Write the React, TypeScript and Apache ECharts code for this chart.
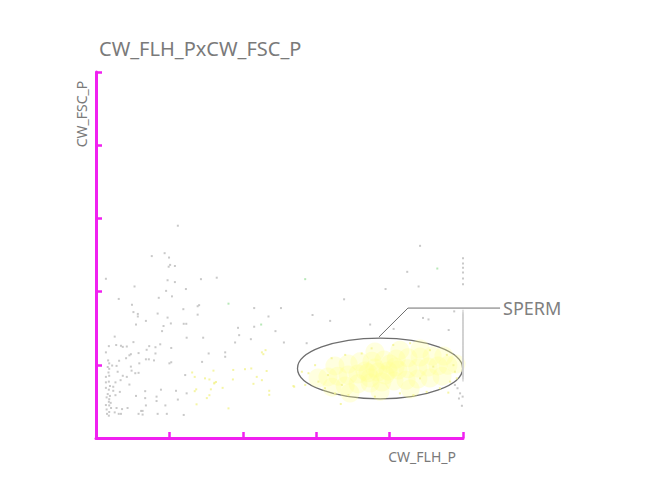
import React, { useEffect, useRef } from 'react';
import * as echarts from 'echarts';

// 事件点（灰色）
const greyPoints: [number, number][] = [
  [223, 580], [152, 497], [187, 505], [199, 493], [202, 473], [215, 470], [198, 468],
  [27, 435], [195, 431], [215, 426], [286, 434], [105, 414], [245, 407], [191, 402],
  [62, 380], [171, 383], [207, 387], [98, 364], [281, 363], [277, 360], [238, 352],
  [102, 344], [114, 339], [114, 332], [168, 340], [195, 329], [277, 337],
  [136, 320], [109, 310], [184, 306], [204, 313], [239, 312], [246, 312], [180, 292],
  [51, 277], [247, 274], [292, 274], [102, 262], [55, 254], [68, 252], [73, 249],
  [84, 250], [35, 251], [145, 251], [162, 248], [175, 256], [205, 246], [27, 234],
  [116, 232], [138, 241], [95, 229], [91, 226], [162, 231], [307, 231], [82, 218],
  [63, 211], [136, 215], [144, 215], [158, 212], [33, 212], [36, 204], [118, 204],
  [200, 204], [205, 207], [289, 208], [32, 194], [36, 189], [44, 198], [56, 197],
  [95, 195], [97, 184], [34, 179], [59, 181], [107, 177], [116, 178], [243, 172],
  [27, 167], [36, 170], [73, 170], [84, 167], [67, 158], [53, 152], [91, 146],
  [27, 152], [35, 154], [38, 142], [47, 140], [27, 137], [35, 132], [47, 129],
  [65, 126], [134, 128], [177, 132], [218, 129], [247, 122], [32, 120], [38, 115],
  [53, 117], [109, 115], [165, 113], [29, 111], [36, 106], [134, 109], [223, 105],
  [165, 101], [35, 99], [40, 96], [27, 90], [36, 89], [41, 82], [56, 82], [71, 79],
  [86, 82], [123, 74], [127, 74], [136, 89], [189, 89], [29, 78], [36, 71], [51, 70],
  [62, 66], [68, 66], [35, 61], [30, 66], [116, 66], [127, 64], [168, 66], [193, 66],
  [239, 63],
  [329, 438], [431, 355], [504, 355], [470, 332], [590, 336], [638, 320], [387, 301],
  [431, 304], [489, 292], [390, 281], [422, 270], [379, 261], [512, 261], [574, 259],
  [352, 234], [352, 222],
  [883, 525], [848, 454], [879, 414], [789, 407], [676, 379], [747, 310], [811, 298],
  [891, 328], [906, 324], [976, 346], [961, 295],
  [1000, 491], [1000, 477], [1000, 465], [1000, 452], [1000, 436], [1000, 420],
  [999, 113], [997, 88], [992, 122], [985, 136], [989, 108], [978, 145]
];

// 右边界饱和事件（堆叠成竖线）
const edgeLine: [number, number][] = [
  [1000, 341], [1000, 334], [1000, 328], [1000, 321], [1000, 315], [1000, 308],
  [1000, 301], [1000, 295], [1000, 288], [1000, 282], [1000, 275], [1000, 268],
  [1000, 262], [1000, 255], [1000, 249], [1000, 242], [1000, 235], [1000, 229],
  [1000, 222], [1000, 216], [1000, 209], [1000, 202], [1000, 196], [1000, 189],
  [1000, 183], [1000, 176], [1000, 170], [1000, 164]
];

const greenPoints: [number, number][] = [
  [570, 434], [361, 367], [450, 310], [930, 463]
];

// 散在的黄色事件
const yellowPoints: [number, number][] = [
  [262, 179], [269, 167], [320, 184], [297, 163], [309, 160], [323, 151], [273, 133],
  [269, 128], [313, 133], [309, 117], [302, 109], [274, 92],
  [452, 234], [462, 240], [456, 229], [374, 186], [406, 188], [423, 190], [465, 183],
  [438, 167], [452, 158], [322, 149], [327, 153], [373, 160], [429, 148], [345, 137],
  [472, 129], [472, 118], [540, 140], [361, 81], [538, 142], [667, 93], [960, 124],
  [579, 177], [597, 199], [606, 154], [624, 136], [642, 218], [651, 122], [679, 227],
  [688, 117], [724, 231], [751, 245], [760, 113], [570, 145], [561, 181], [632, 172],
  [670, 145], [810, 254], [856, 259], [910, 240], [956, 227], [974, 199], [978, 181],
  [965, 154], [937, 136], [901, 126], [865, 117], [828, 122], [983, 163], [919, 195],
  [883, 163]
];

// 精子群的密集核心
const clusterCore: [number, number][] = [
  [605, 164], [632, 167], [659, 169], [687, 172], [714, 175], [741, 178], [768, 180],
  [796, 183], [823, 186], [850, 189], [877, 191], [905, 194], [932, 197], [959, 199],
  [981, 202],
  [651, 197], [687, 202], [719, 208], [752, 210], [785, 213], [818, 216], [850, 219],
  [883, 221], [916, 224], [948, 224],
  [643, 139], [679, 142], [714, 148], [747, 150], [779, 153], [812, 156], [845, 158],
  [877, 161], [910, 164], [943, 169],
  [733, 183], [760, 191], [788, 172], [815, 194], [747, 164], [801, 202],
  [760, 235], [828, 240], [883, 243], [692, 123], [774, 128], [856, 134]
];

// 门（椭圆）与标注
const gateName = 'SPERM';
const gateCenter: [number, number] = [774, 190];
const gateRadius: [number, number] = [225, 83];
const leaderLine: [number, number][] = [[771, 276], [850, 355], [1101, 355]];

const MAGENTA = '#f020f0';
const TEXT = '#7a7a7a';
const FONT = '"Noto Sans", sans-serif';

const App: React.FC = () => {
  const chartRef = useRef<HTMLDivElement>(null);

  useEffect(() => {
    if (!chartRef.current) return;
    const chart = echarts.init(chartRef.current, null, { renderer: 'svg' });

    const axisCommon = {
      min: 0,
      max: 1000,
      interval: 200,
      axisLine: { show: true, onZero: false, lineStyle: { color: MAGENTA, width: 3 } },
      axisTick: { show: true, inside: true, length: 6, lineStyle: { color: MAGENTA, width: 2.5 } },
      axisLabel: { show: false },
      splitLine: { show: false }
    };

    const dot = (data: [number, number][], color: string, size: number | number[] = 2) => ({
      type: 'scatter',
      data,
      symbol: 'rect',
      symbolSize: size,
      itemStyle: { color },
      clip: false,
      silent: true
    });

    chart.setOption({
      animation: false,
      title: {
        text: 'CW_FLH_PxCW_FSC_P',
        left: 86,
        top: 25,
        textStyle: { fontSize: 20, fontWeight: 'normal', color: TEXT, fontFamily: FONT }
      },
      grid: { left: 88, top: 64, width: 367, height: 366, containLabel: false },
      xAxis: { type: 'value', ...axisCommon },
      yAxis: { type: 'value', ...axisCommon },
      graphic: [
        {
          type: 'text',
          x: 73,
          y: 106,
          rotation: Math.PI / 2,
          style: {
            text: 'CW_FSC_P',
            fill: TEXT,
            font: `14px ${FONT}`,
            align: 'center',
            verticalAlign: 'middle'
          }
        },
        {
          type: 'text',
          x: 448,
          y: 448,
          style: {
            text: 'CW_FLH_P',
            fill: TEXT,
            font: `14px ${FONT}`,
            align: 'right',
            verticalAlign: 'middle'
          }
        }
      ],
      series: [
        {
          type: 'scatter',
          data: clusterCore,
          symbol: 'circle',
          symbolSize: 19,
          itemStyle: { color: '#ffff8c', opacity: 0.28 },
          clip: false,
          silent: true
        },
        dot(yellowPoints, '#f3f38e'),
        dot(greyPoints, '#bcbcbc'),
        dot(greenPoints, '#a6e2a6'),
        dot(edgeLine, '#d0d0d0', [1.6, 7]),
        {
          type: 'custom',
          coordinateSystem: 'cartesian2d',
          data: [0],
          clip: false,
          silent: true,
          renderItem: (_params: any, api: any) => {
            const c = api.coord(gateCenter);
            const e = api.coord([gateCenter[0] + gateRadius[0], gateCenter[1] + gateRadius[1]]);
            const pts = leaderLine.map((p) => api.coord(p));
            const last = pts[pts.length - 1];
            return {
              type: 'group',
              children: [
                {
                  type: 'ellipse',
                  shape: { cx: c[0], cy: c[1], rx: e[0] - c[0], ry: c[1] - e[1] },
                  style: { fill: 'none', stroke: '#6e6e6e', lineWidth: 1.3 }
                },
                {
                  type: 'polyline',
                  shape: { points: pts },
                  style: { fill: 'none', stroke: '#6e6e6e', lineWidth: 1 }
                },
                {
                  type: 'text',
                  style: {
                    text: gateName,
                    x: last[0] + 3,
                    y: last[1],
                    fill: '#808080',
                    font: `18px ${FONT}`,
                    verticalAlign: 'middle'
                  }
                }
              ]
            };
          }
        }
      ]
    });

    return () => {
      chart.dispose();
    };
  }, []);

  return <div ref={chartRef} style={{ width: '649px', height: '472px' }} />;
};

export default App;
